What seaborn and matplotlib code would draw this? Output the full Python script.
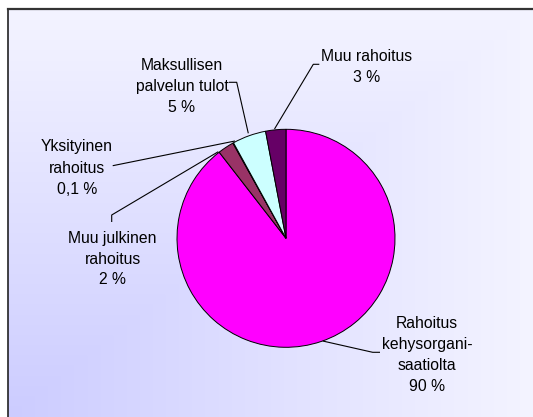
import matplotlib
matplotlib.use("Agg")
import matplotlib.pyplot as plt
import numpy as np
import seaborn as sns

# data
categories = [
    "Rahoitus\nkehysorgani-\nsaatiolta",
    "Muu julkinen\nrahoitus",
    "Yksityinen\nrahoitus",
    "Maksullisen\npalvelun tulot",
    "Muu rahoitus",
]
shares = [89.5, 2.4, 0.1, 5.0, 3.0]
slice_colors = ["#FF00FF", "#993366", "#FFFFCC", "#CCFFFF", "#660066"]

# label placement (pixel coords, y down) and leader lines
label_pos = [(427, 355), (112.7, 259), (76.7, 168), (182, 86), (366.5, 66.5)]
leaders = [
    [(380, 352.3), (372.7, 352.3), (322.7, 341)],
    [(111.7, 222), (111.7, 215), (218.3, 151.7)],
    [(112.7, 165.7), (235, 141)],
    [(229, 82.3), (236.7, 82.3), (248.3, 133.3)],
    [(319.3, 64.3), (313.3, 64.3), (274.5, 129)],
]

W, H = 533, 417


def fmt(v):
    if v < 1:
        return f"{v:.1f} %".replace(".", ",")
    return f"{v:.0f} %"


sns.set_theme(style="white")
plt.rcParams["font.family"] = ["Liberation Sans", "DejaVu Sans"]

fig = plt.figure(figsize=(W / 100, H / 100), dpi=100)
fig.patch.set_facecolor("white")

# gradient background of the chart area
bg = fig.add_axes([7.5 / W, 0, 1 - 7.5 / W, (H - 9) / H])
xs = np.linspace(0, 1, 300)
ys = np.linspace(0, 1, 300)
gx, gy = np.meshgrid(xs, ys)
t = np.minimum(1 - gx, gy)
light = np.array([244, 244, 255]) / 255
dark = np.array([204, 204, 255]) / 255
img = light[None, None, :] + t[..., None] * (dark - light)[None, None, :]
bg.imshow(img, aspect="auto", extent=(0, 1, 1, 0), interpolation="bilinear")
bg.set_xticks([])
bg.set_yticks([])
for side in ["right", "bottom"]:
    bg.spines[side].set_visible(False)
bg.spines["left"].set_color("#222222")
bg.spines["left"].set_linewidth(1.2)
bg.spines["top"].set_color("#333333")
bg.spines["top"].set_linewidth(1.6)

ax = fig.add_axes([0, 0, 1, 1])
ax.set_facecolor("none")
ax.pie(
    shares,
    colors=slice_colors,
    startangle=90,
    counterclock=False,
    center=(286, H - 238.3),
    radius=109,
    wedgeprops=dict(edgecolor="black", linewidth=0.7),
)

for name, v, (x, y) in zip(categories, shares, label_pos):
    ax.text(x, H - y, f"{name}\n{fmt(v)}", ha="center", va="center",
            multialignment="center", fontsize=11.3, color="black", linespacing=1.5)

for pts in leaders:
    px = [p[0] for p in pts]
    py = [H - p[1] for p in pts]
    ax.plot(px, py, color="black", linewidth=0.8, solid_capstyle="butt")

ax.set_xlim(0, W)
ax.set_ylim(0, H)
ax.set_aspect("auto")
ax.axis("off")

fig.savefig("out.png", dpi=100)
